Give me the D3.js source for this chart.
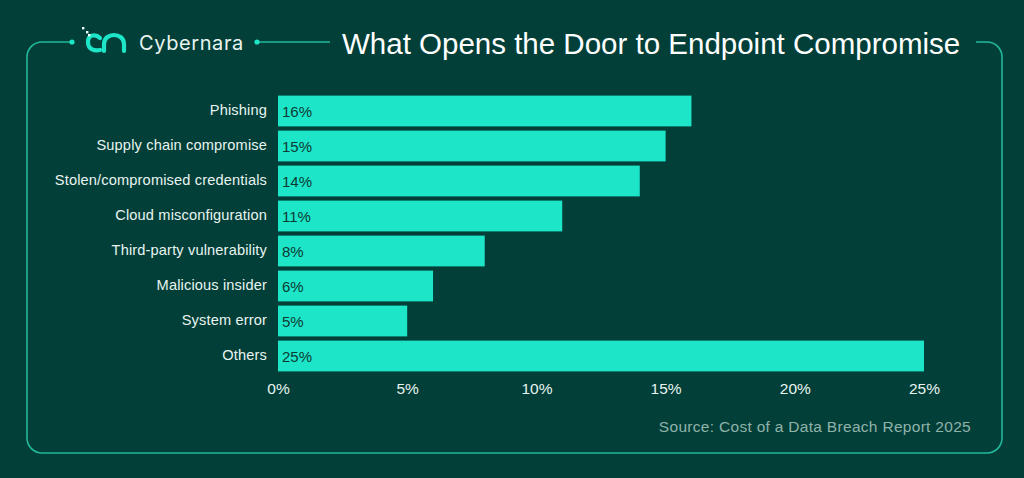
<!DOCTYPE html>
<html>
<head>
<meta charset="utf-8">
<script src="https://cdn.jsdelivr.net/npm/d3@7"></script>
<style>
  html, body { margin: 0; padding: 0; background: #023f38; }
  svg { display: block; }
</style>
</head>
<body>
<svg id="canvas" width="1024" height="478"></svg>
<script>
const categories = [
    "Phishing",
    "Supply chain compromise",
    "Stolen/compromised credentials",
    "Cloud misconfiguration",
    "Third-party vulnerability",
    "Malicious insider",
    "System error",
    "Others"
];
const shares = [16, 15, 14, 11, 8, 6, 5, 25];
const ticks = [0, 5, 10, 15, 20, 25];

const teal = "#1de5c8";
const frameCol = "#23b89c";
const font = "'Liberation Sans', Arial, sans-serif";
const svg = d3.select("svg#canvas");

svg.append("rect")
    .attr("width", 1024).attr("height", 478)
    .attr("fill", "#023f38");

// frame, open at the top where logo and title sit
const frame = d3.path();
frame.moveTo(72, 42);
frame.lineTo(42, 42);
frame.arcTo(27, 42, 27, 57, 15);
frame.lineTo(27, 438);
frame.arcTo(27, 453, 42, 453, 15);
frame.lineTo(987, 453);
frame.arcTo(1002, 453, 1002, 438, 15);
frame.lineTo(1002, 57);
frame.arcTo(1002, 42, 987, 42, 15);
frame.lineTo(976, 42);
svg.append("path")
    .attr("d", frame.toString())
    .attr("fill", "none")
    .attr("stroke", frameCol)
    .attr("stroke-width", 1.6);

svg.append("line")
    .attr("x1", 257).attr("x2", 330).attr("y1", 42).attr("y2", 42)
    .attr("stroke", frameCol).attr("stroke-width", 1.6);
svg.selectAll("circle.dot")
    .data([72, 257])
    .join("circle")
    .attr("class", "dot")
    .attr("cx", d => d).attr("cy", 42).attr("r", 2.6)
    .attr("fill", teal);

// logo
const logo = svg.append("g").attr("fill", "none").attr("stroke", teal)
    .attr("stroke-width", 4.2).attr("stroke-linecap", "round");
logo.append("path").attr("d", "M100,38 C96,34 88,34 88,42 C88,50 95,51 100,50");
logo.append("path").attr("d", "M104,51 L104,44 C104,32 124,32 124,44 L124,51");
svg.selectAll("rect.px")
    .data([[82, 27], [86, 31], [88, 34]])
    .join("rect")
    .attr("class", "px")
    .attr("x", d => d[0]).attr("y", d => d[1])
    .attr("width", 2.4).attr("height", 2.4)
    .attr("fill", "#e8fff9");

svg.append("text")
    .attr("x", 139).attr("y", 50)
    .attr("font-family", "Inter, 'Noto Sans', sans-serif")
    .attr("font-size", 20)
    .attr("letter-spacing", 0.6)
    .attr("fill", "#e8f4f0")
    .text("Cybernara");

svg.append("text")
    .attr("x", 342).attr("y", 54)
    .attr("font-family", font)
    .attr("font-size", 29.5)
    .attr("fill", "#ffffff")
    .text("What Opens the Door to Endpoint Compromise");

// chart
const x = d3.scaleLinear().domain([0, 25]).range([278, 924]);
const y = d3.scaleBand().domain(categories).range([93.5, 373.5]).paddingInner(0.12).paddingOuter(0.06);

const g = svg.append("g");
g.selectAll("rect.bar")
    .data(categories)
    .join("rect")
    .attr("class", "bar")
    .attr("x", x(0))
    .attr("y", d => y(d))
    .attr("width", (_, i) => x(shares[i]) - x(0))
    .attr("height", y.bandwidth())
    .attr("fill", teal);

g.selectAll("text.val")
    .data(categories)
    .join("text")
    .attr("class", "val")
    .attr("x", x(0) + 4)
    .attr("y", d => y(d) + y.bandwidth() / 2 + 5.5)
    .attr("font-family", font)
    .attr("font-size", 15)
    .attr("fill", "#0c3a33")
    .text((_, i) => shares[i] + "%");

const yAxis = g.append("g")
    .attr("transform", `translate(${x(0)},0)`)
    .call(d3.axisLeft(y).tickSize(0).tickPadding(11));
yAxis.select(".domain").remove();
yAxis.selectAll("text")
    .attr("font-family", font)
    .attr("font-size", 14.6)
    .attr("letter-spacing", 0.15)
    .attr("fill", "#e8f4f0")
    .attr("dy", "0.3em");

const xAxis = g.append("g")
    .attr("transform", "translate(0,373)")
    .call(d3.axisBottom(x).tickValues(ticks).tickSize(0).tickPadding(10).tickFormat(d => d + "%"));
xAxis.select(".domain").remove();
xAxis.selectAll("text")
    .attr("font-family", font)
    .attr("font-size", 15.5)
    .attr("fill", "#e8f4f0");

svg.append("text")
    .attr("x", 971).attr("y", 432)
    .attr("text-anchor", "end")
    .attr("font-family", font)
    .attr("font-size", 15.5)
    .attr("letter-spacing", 0.3)
    .attr("fill", "#8fb3aa")
    .text("Source: Cost of a Data Breach Report 2025");
</script>
</body>
</html>
